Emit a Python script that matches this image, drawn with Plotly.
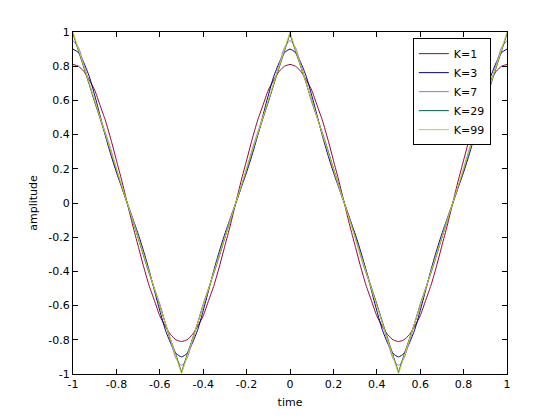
import plotly.graph_objects as go

time = [round(-1 + 0.025 * i, 3) for i in range(81)]

k1 = [0.81,0.80,0.77,0.72,0.66,0.57,0.48,0.37,0.25,0.13,0.00,-0.13,-0.25,-0.37,-0.48,-0.57,-0.66,-0.72,-0.77,-0.80,-0.81,
      -0.80,-0.77,-0.72,-0.66,-0.57,-0.48,-0.37,-0.25,-0.13,0.00,0.13,0.25,0.37,0.48,0.57,0.66,0.72,0.77,0.80,0.81,
      0.80,0.77,0.72,0.66,0.57,0.48,0.37,0.25,0.13,0.00,-0.13,-0.25,-0.37,-0.48,-0.57,-0.66,-0.72,-0.77,-0.80,-0.81,
      -0.80,-0.77,-0.72,-0.66,-0.57,-0.48,-0.37,-0.25,-0.13,0.00,0.13,0.25,0.37,0.48,0.57,0.66,0.72,0.77,0.80,0.81]

k3 = [0.90,0.88,0.82,0.74,0.63,0.51,0.39,0.28,0.18,0.09,0.00,-0.09,-0.18,-0.28,-0.39,-0.51,-0.63,-0.74,-0.82,-0.88,-0.90,
      -0.88,-0.82,-0.74,-0.63,-0.51,-0.39,-0.28,-0.18,-0.09,0.00,0.09,0.18,0.28,0.39,0.51,0.63,0.74,0.82,0.88,0.90,
      0.88,0.82,0.74,0.63,0.51,0.39,0.28,0.18,0.09,0.00,-0.09,-0.18,-0.28,-0.39,-0.51,-0.63,-0.74,-0.82,-0.88,-0.90,
      -0.88,-0.82,-0.74,-0.63,-0.51,-0.39,-0.28,-0.18,-0.09,0.00,0.09,0.18,0.28,0.39,0.51,0.63,0.74,0.82,0.88,0.90]

k7 = [0.95,0.91,0.81,0.70,0.59,0.50,0.41,0.31,0.20,0.09,0.00,-0.09,-0.20,-0.31,-0.41,-0.50,-0.59,-0.70,-0.81,-0.91,-0.95,
      -0.91,-0.81,-0.70,-0.59,-0.50,-0.41,-0.31,-0.20,-0.09,0.00,0.09,0.20,0.31,0.41,0.50,0.59,0.70,0.81,0.91,0.95,
      0.91,0.81,0.70,0.59,0.50,0.41,0.31,0.20,0.09,0.00,-0.09,-0.20,-0.31,-0.41,-0.50,-0.59,-0.70,-0.81,-0.91,-0.95,
      -0.91,-0.81,-0.70,-0.59,-0.50,-0.41,-0.31,-0.20,-0.09,0.00,0.09,0.20,0.31,0.41,0.50,0.59,0.70,0.81,0.91,0.95]

k29 = [0.99,0.89,0.80,0.70,0.60,0.50,0.40,0.30,0.20,0.10,0.00,-0.10,-0.20,-0.30,-0.40,-0.50,-0.60,-0.70,-0.80,-0.89,-0.99,
       -0.89,-0.80,-0.70,-0.60,-0.50,-0.40,-0.30,-0.20,-0.10,0.00,0.10,0.20,0.30,0.40,0.50,0.60,0.70,0.80,0.89,0.99,
       0.89,0.80,0.70,0.60,0.50,0.40,0.30,0.20,0.10,0.00,-0.10,-0.20,-0.30,-0.40,-0.50,-0.60,-0.70,-0.80,-0.89,-0.99,
       -0.89,-0.80,-0.70,-0.60,-0.50,-0.40,-0.30,-0.20,-0.10,0.00,0.10,0.20,0.30,0.40,0.50,0.60,0.70,0.80,0.89,0.99]

k99 = [1.00,0.90,0.80,0.70,0.60,0.50,0.40,0.30,0.20,0.10,0.00,-0.10,-0.20,-0.30,-0.40,-0.50,-0.60,-0.70,-0.80,-0.90,-1.00,
       -0.90,-0.80,-0.70,-0.60,-0.50,-0.40,-0.30,-0.20,-0.10,0.00,0.10,0.20,0.30,0.40,0.50,0.60,0.70,0.80,0.90,1.00,
       0.90,0.80,0.70,0.60,0.50,0.40,0.30,0.20,0.10,0.00,-0.10,-0.20,-0.30,-0.40,-0.50,-0.60,-0.70,-0.80,-0.90,-1.00,
       -0.90,-0.80,-0.70,-0.60,-0.50,-0.40,-0.30,-0.20,-0.10,0.00,0.10,0.20,0.30,0.40,0.50,0.60,0.70,0.80,0.90,1.00]

names = ["K=1", "K=3", "K=7", "K=29", "K=99"]
series = [k1, k3, k7, k29, k99]
colors = ["#99003a", "#000080", "#a066ee", "#00604a", "#cccc22"]
shapes = ["spline", "spline", "spline", "linear", "linear"]

tick_vals = [-1, -0.8, -0.6, -0.4, -0.2, 0, 0.2, 0.4, 0.6, 0.8, 1]
tick_text = ["-1", "-0.8", "-0.6", "-0.4", "-0.2", "0", "0.2", "0.4", "0.6", "0.8", "1"]

FONT = "DejaVu Sans, Arial"

fig = go.Figure()
for n, y, c, s in zip(names, series, colors, shapes):
    fig.add_trace(go.Scatter(x=time, y=y, mode="lines", name=n,
                             line=dict(color=c, width=1, shape=s, smoothing=0.6)))

axis_common = dict(showline=True, linecolor="black", linewidth=1, mirror="allticks",
                   ticks="inside", ticklen=5, tickcolor="black", showgrid=False,
                   zeroline=False, tickfont=dict(family=FONT, size=11, color="black"))

fig.update_layout(
    width=560, height=420,
    margin=dict(l=73, r=53, t=32, b=46),
    paper_bgcolor="white", plot_bgcolor="white",
    font=dict(family=FONT, size=11, color="black"),
    showlegend=True,
    legend=dict(x=0.783, y=0.982, xanchor="left", yanchor="top",
                bgcolor="white", bordercolor="black", borderwidth=1,
                font=dict(family=FONT, size=11), tracegroupgap=0,
                entrywidth=84, entrywidthmode="pixels"),
    xaxis=dict(range=[-1, 1], tickvals=tick_vals, ticktext=tick_text,
               title=dict(text="time", standoff=8, font=dict(family=FONT, size=11)), **axis_common),
    yaxis=dict(range=[-1, 1], tickvals=tick_vals, ticktext=tick_text,
               title=dict(text="amplitude", standoff=8, font=dict(family=FONT, size=11)), **axis_common),
)

fig.write_html("out.html")
